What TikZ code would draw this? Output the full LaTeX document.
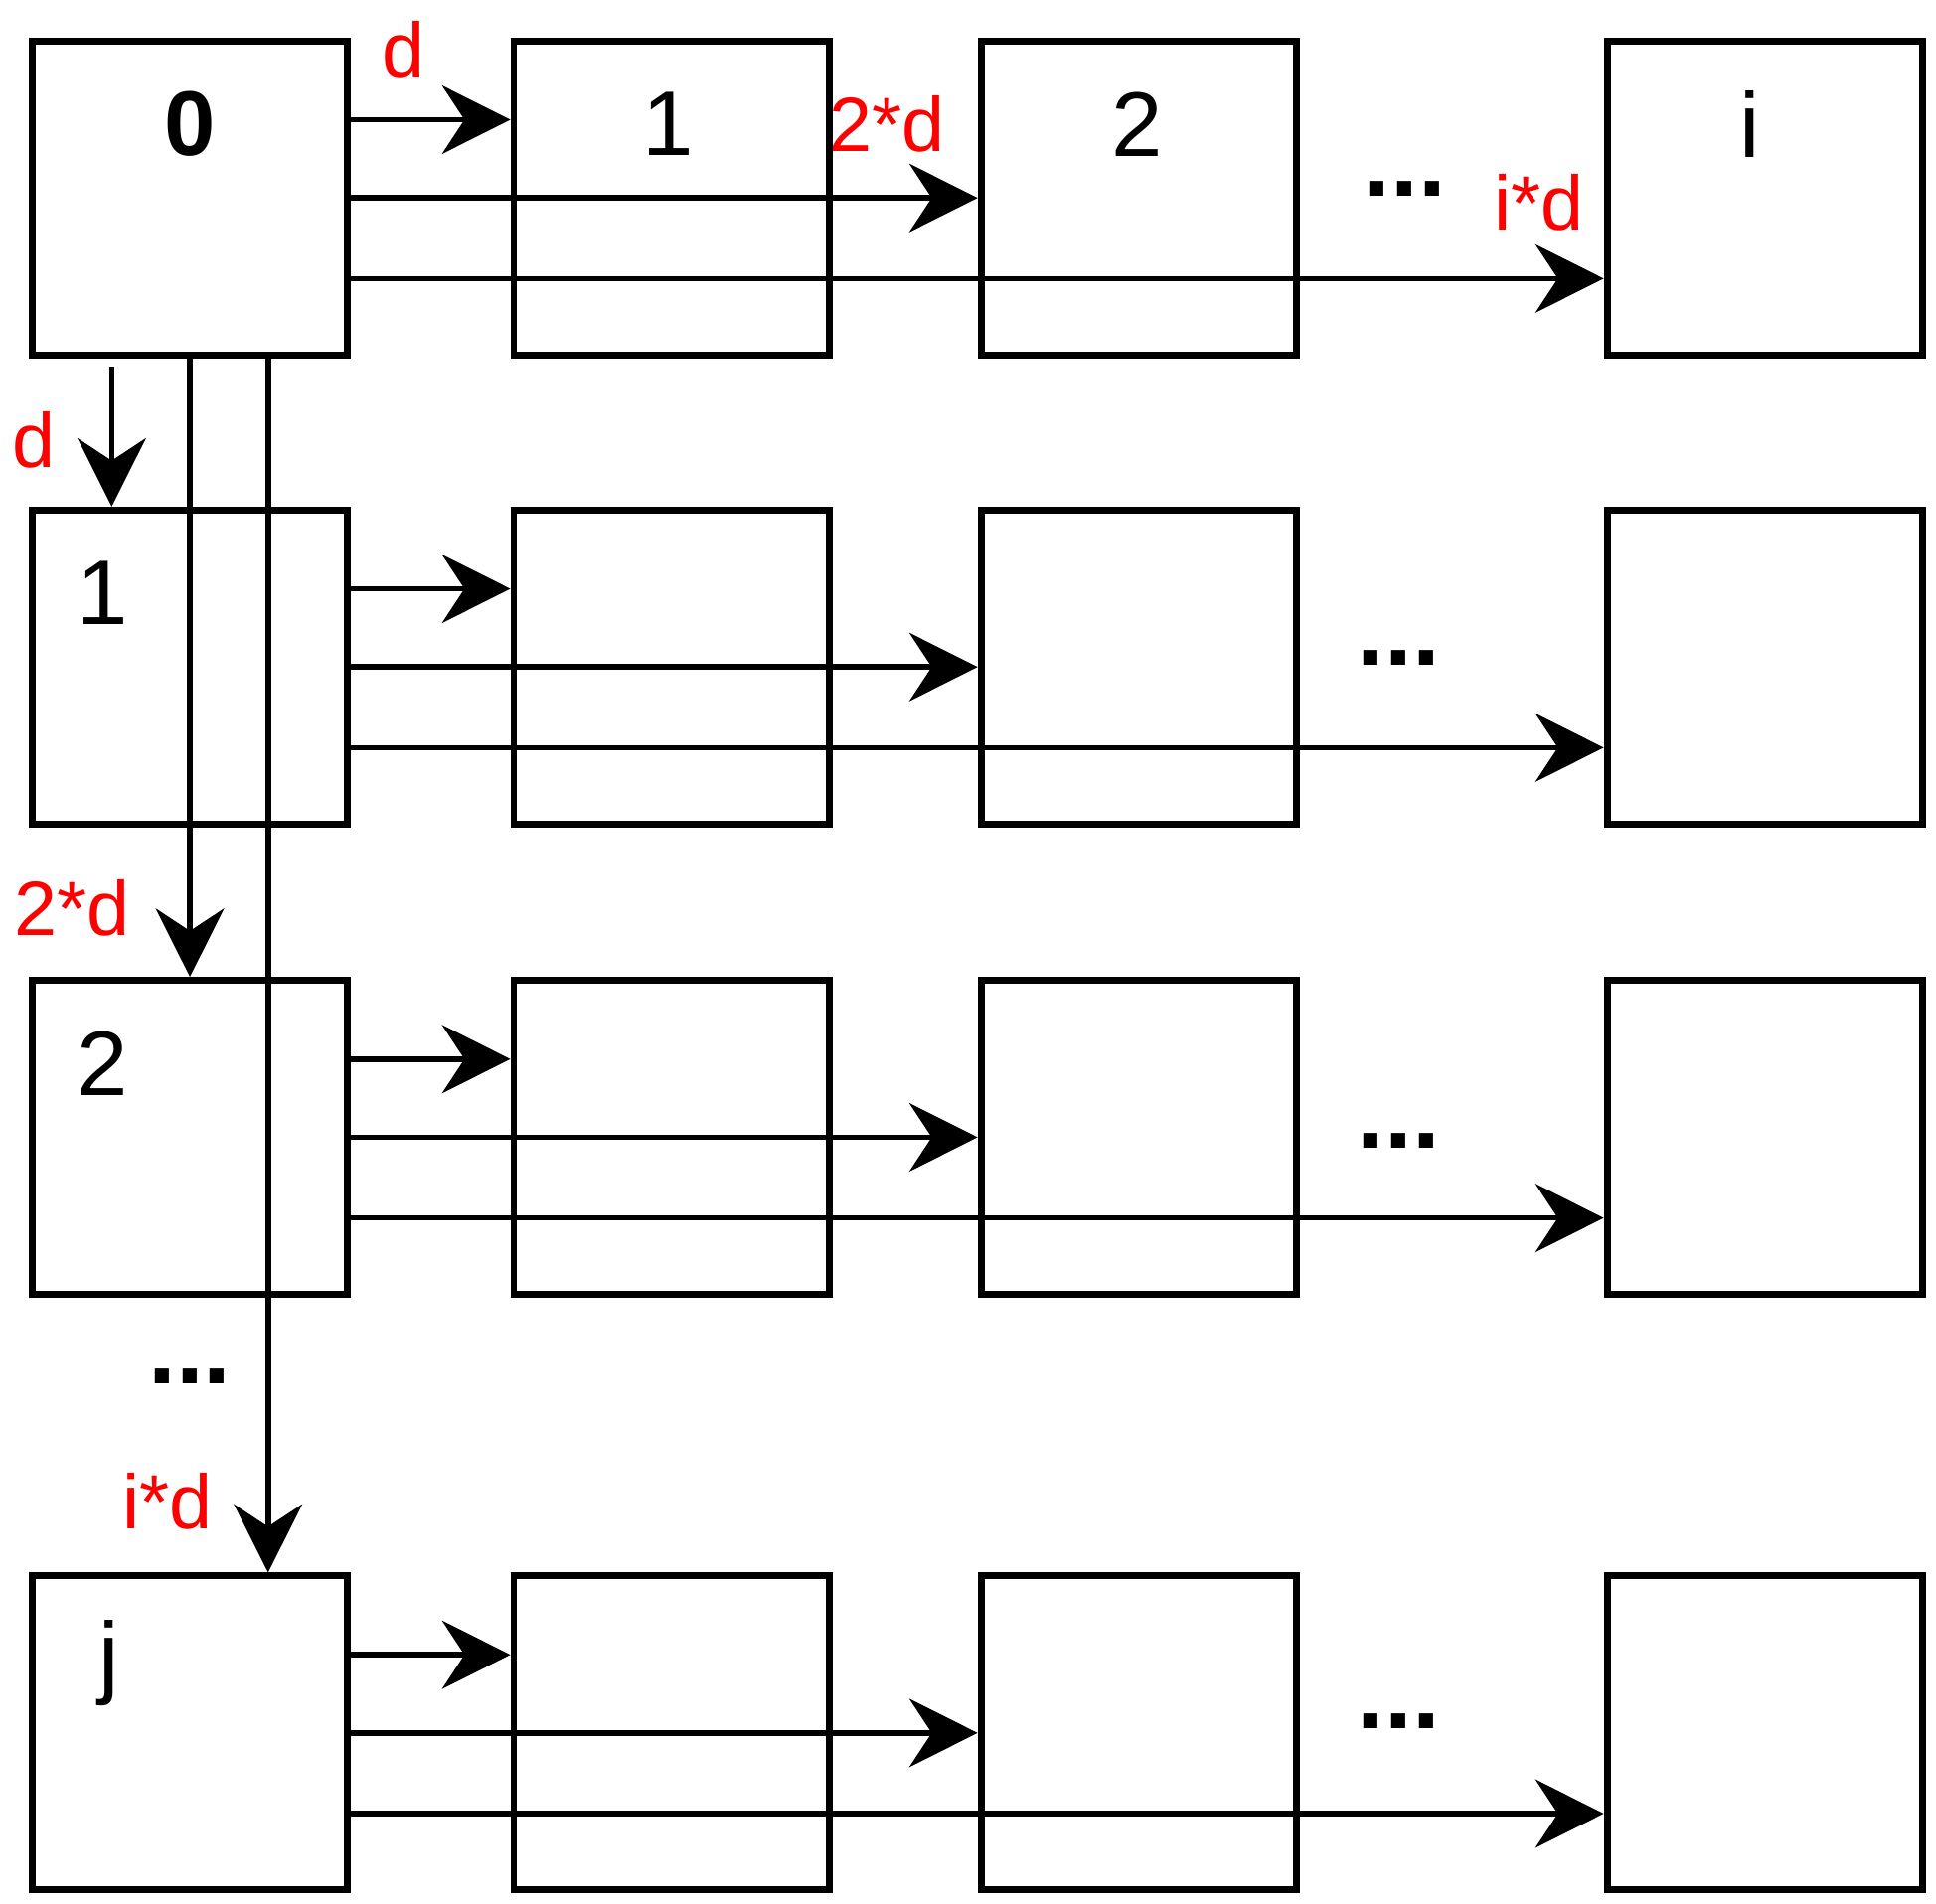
\documentclass[tikz,border=0pt]{standalone}
\usepackage{fontspec}
\setmainfont{Liberation Sans}
\usetikzlibrary{arrows.meta}
\begin{document}
\begin{tikzpicture}[x=1pt,y=-1pt,
  box/.style={draw,line width=5.5pt,minimum width=254pt,minimum height=253pt,inner sep=0pt},
  arr/.style={line width=4.5pt,-{Stealth[length=55pt,width=55pt,inset=18pt]}},
  lab/.style={font=\fontsize{62}{62}\selectfont,text=red},
  num/.style={font=\fontsize{74}{74}\selectfont},
  dots/.style={font=\fontsize{80}{80}\selectfont\bfseries}]
\useasboundingbox (0,0) rectangle (1560,1534);
\foreach \r/\y in {0/159.5,1/537.5,2/916.5,3/1396.5}{
  \foreach \c/\x in {0/153,1/541,2/917.5,3/1422}{
    \node[box] (b\r\c) at (\x,\y) {};
  }
}
% row arrows
\foreach \r in {0,1,2,3}{
  \draw[arr] ([yshift=63pt]b\r0.east) -- ([yshift=63pt]b\r1.west);
  \draw[arr] (b\r0.east) -- (b\r2.west);
  \draw[arr] ([yshift=-65pt]b\r0.east) -- ([yshift=-65pt]b\r3.west);
}
% column arrows
\draw[arr] ([xshift=-63pt,yshift=-7pt]b00.south) -- ([xshift=-63pt]b10.north);
\draw[arr] (b00.south) -- (b20.north);
\draw[arr] ([xshift=63pt]b00.south) -- ([xshift=63pt]b30.north);
% texts
\node[num,font=\fontsize{74}{74}\selectfont\bfseries] (t0) at (153,100) {0};
\node[num] (t1) at (538,100) {1};
\node[num] (t2) at (916,100) {2};
\node[num] (ti) at (1410,100) {i};
\node[num] (u1) at (83,478) {1};
\node[num] (u2) at (83,857) {2};
\node[num] (uj) at (88,1340) {j};
\node[lab] (l1) at (325,40) {d};
\node[lab] (l2) at (715,100) {2*d};
\node[lab] (l3) at (1240,163) {i*d};
\node[lab] (l4) at (27,355) {d};
\node[lab] (l5) at (58,732) {2*d};
\node[lab] (l6) at (135,1210) {i*d};
\node[dots] (d0) at (1132,152) {...};
\node[dots] (d1) at (1127,530) {...};
\node[dots] (d2) at (1127,919) {...};
\node[dots] (d3) at (1127,1387) {...};
\node[dots] (d4) at (153,1109) {...};
\end{tikzpicture}
\end{document}
